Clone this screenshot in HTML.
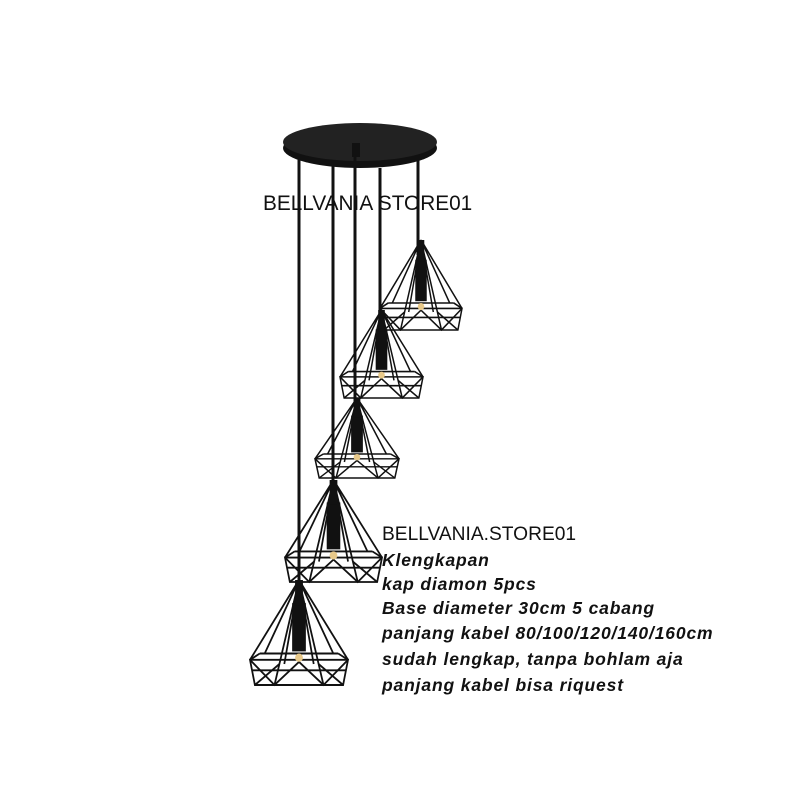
<!DOCTYPE html>
<html><head><style>
html,body{margin:0;padding:0;background:#fff;}
.w{position:relative;width:800px;height:800px;overflow:hidden;}
svg{position:absolute;left:0;top:0;}
.t{position:absolute;font-family:"Liberation Sans",sans-serif;color:#111;white-space:nowrap;}
.b{font-weight:bold;font-style:italic;font-size:17.5px;letter-spacing:0.85px;}
</style></head><body><div class="w">
<svg width="800" height="800" viewBox="0 0 800 800">
<defs>
<g id="lamp" fill="none" stroke="#111" stroke-width="1.8">
<path d="M50 0 L0 76 M50 0 L15 70 M50 0 L35 80 M50 0 L65 80 M50 0 L85 70 M50 0 L100 76 M50 0 L25 100 M50 0 L75 100"/>
<path d="M0 76 L100 76 L95 100 L5 100 Z M10 70 L90 70 M0 76 L10 70 M100 76 L90 70 M2 86 L98 86"/>
<path d="M0 76 L25 100 L50 78 L75 100 L100 76 M5 100 L30 80 M95 100 L70 80"/>
<rect x="43" y="22" width="14" height="46" fill="#111" stroke="none"/>
<rect x="46" y="0" width="8" height="24" fill="#111" stroke="none"/>
<circle cx="50" cy="74" r="4" fill="#e8c98a" stroke="none"/>
</g>
</defs>
<ellipse cx="360" cy="148" rx="77" ry="20" fill="#111"/>
<ellipse cx="360" cy="142" rx="77" ry="19" fill="#222"/>
<rect x="352" y="143" width="8" height="14" fill="#111"/>
<g stroke="#111" stroke-width="3">
<line x1="299" y1="158" x2="299" y2="600"/>
<line x1="333" y1="165" x2="333" y2="500"/>
<line x1="355" y1="150" x2="355" y2="415"/>
<line x1="380" y1="168" x2="380" y2="325"/>
<line x1="418" y1="160" x2="418" y2="255"/>
</g>
<use href="#lamp" transform="translate(380,240) scale(0.82,0.9)"/>
<use href="#lamp" transform="translate(340,310) scale(0.83,0.88)"/>
<use href="#lamp" transform="translate(315,398) scale(0.84,0.8)"/>
<use href="#lamp" transform="translate(285,480) scale(0.97,1.02)"/>
<use href="#lamp" transform="translate(250,580) scale(0.98,1.05)"/>
</svg>
<div class="t" style="left:263px;top:192px;font-size:20.8px;">BELLVANIA STORE01</div>
<div class="t" style="left:382px;top:524px;font-size:19.2px;">BELLVANIA.STORE01</div>
<div class="t b" style="left:382px;top:550px;">Klengkapan</div>
<div class="t b" style="left:382px;top:574px;">kap diamon 5pcs</div>
<div class="t b" style="left:382px;top:598px;">Base diameter 30cm 5 cabang</div>
<div class="t b" style="left:382px;top:623px;">panjang kabel 80/100/120/140/160cm</div>
<div class="t b" style="left:382px;top:649px;">sudah lengkap, tanpa bohlam aja</div>
<div class="t b" style="left:382px;top:675px;">panjang kabel bisa riquest</div>
</div></body></html>
